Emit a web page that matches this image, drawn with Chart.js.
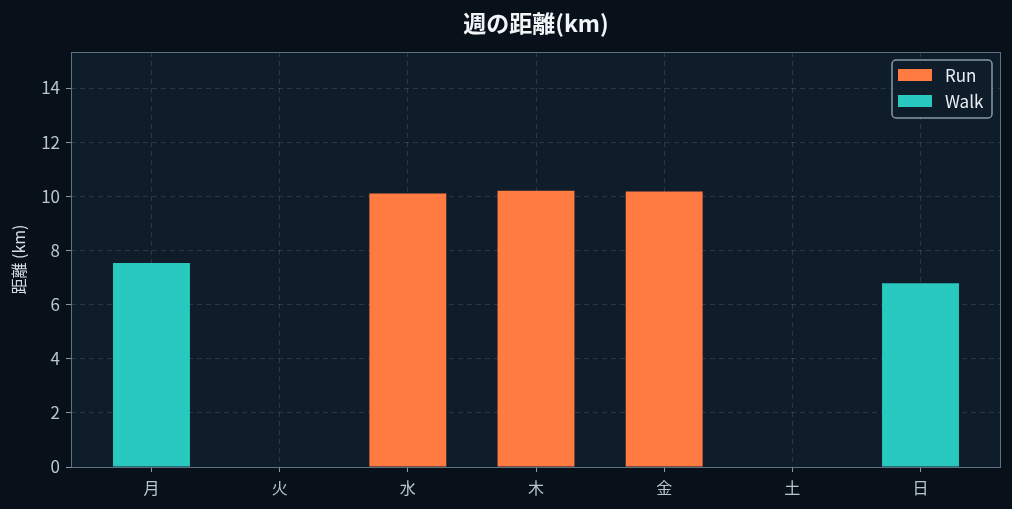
<!DOCTYPE html>
<html lang="ja">
<head>
    <meta charset="UTF-8">
    <title>週の距離(km)</title>
    <style>
        html, body { margin: 0; padding: 0; background: #08111a; }
        #wrap { width: 1012px; height: 509px; }
    </style>
</head>
<body>
    <div id="wrap"><canvas id="chart"></canvas></div>

    <script src="https://cdn.jsdelivr.net/npm/chart.js"></script>
    <script>
        const days = ['月', '火', '水', '木', '金', '土', '日'];
        const runKm = [0, 0, 10.1, 10.2, 10.18, 0, 0];
        const walkKm = [7.54, 0, 0, 0, 0, 0, 6.79];
        const yTicks = [0, 2, 4, 6, 8, 10, 12, 14];

        const FONT = "'Noto Sans CJK JP', 'Noto Sans', sans-serif";
        const plotBg = '#0f1d2a';
        const gridColor = 'rgba(160, 185, 210, 0.18)';
        const tickMarkColor = '#8a9bab';
        const labelColor = '#b9c6d2';

        // plot background + frame
        const frame = {
            id: 'frame',
            beforeDraw(chart) {
                const c = chart.ctx, a = chart.chartArea;
                c.save();
                c.fillStyle = '#08111a';
                c.fillRect(0, 0, chart.width, chart.height);
                c.fillStyle = plotBg;
                c.fillRect(a.left, a.top, a.right - a.left, a.bottom - a.top);
                c.restore();
            },
            afterDraw(chart) {
                const c = chart.ctx, a = chart.chartArea;
                c.save();
                c.strokeStyle = '#5f7080';
                c.lineWidth = 1;
                c.strokeRect(a.left + 0.5, a.top + 0.5, a.right - a.left - 1, a.bottom - a.top);
                c.restore();
            }
        };

        // legend with a rounded box, top right inside the plot
        const boxLegend = {
            id: 'boxLegend',
            afterDraw(chart) {
                const c = chart.ctx, a = chart.chartArea;
                const w = 100, h = 58;
                const x = a.right - 9 - w, y = a.top + 8;
                c.save();
                c.beginPath();
                c.roundRect(x, y, w, h, 4);
                c.fillStyle = 'rgba(15, 29, 42, 0.85)';
                c.fill();
                c.lineWidth = 1.5;
                c.strokeStyle = '#8798a8';
                c.stroke();
                c.font = '17px ' + FONT;
                c.textBaseline = 'middle';
                chart.data.datasets.forEach((ds, i) => {
                    const cy = y + 15 + i * 26;
                    c.fillStyle = ds.backgroundColor;
                    c.fillRect(x + 6, cy - 6, 34, 12);
                    c.fillStyle = '#e8eef4';
                    c.fillText(ds.label, x + 53, cy + 1);
                });
                c.restore();
            }
        };

        const gridOpts = {
            color: gridColor,
            offset: false,
            tickColor: tickMarkColor,
            tickBorderDash: [],
            tickLength: 5
        };

        const ctx = document.getElementById('chart').getContext('2d');
        const chart = new Chart(ctx, {
            type: 'bar',
            data: {
                datasets: [
                    {
                        label: 'Run',
                        data: runKm.map((v, i) => ({ x: i, y: v })),
                        backgroundColor: '#ff7b41',
                        borderWidth: 0,
                        inflateAmount: 0,
                        categoryPercentage: 1,
                        barPercentage: 0.6
                    },
                    {
                        label: 'Walk',
                        data: walkKm.map((v, i) => ({ x: i, y: v })),
                        backgroundColor: '#2ac9c0',
                        borderWidth: 0,
                        inflateAmount: 0,
                        categoryPercentage: 1,
                        barPercentage: 0.6
                    }
                ]
            },
            options: {
                responsive: true,
                maintainAspectRatio: false,
                animation: false,
                layout: { padding: { left: 0, right: 11, top: 0, bottom: 0 } },
                plugins: {
                    legend: { display: false },
                    tooltip: { enabled: false },
                    title: {
                        display: true,
                        text: '週の距離(km)',
                        fullSize: false,
                        color: '#f2f5f8',
                        font: { family: FONT, size: 23, weight: 'bold', lineHeight: 1.2 },
                        padding: { top: 9.5, bottom: 14.9 }
                    }
                },
                scales: {
                    x: {
                        type: 'linear',
                        stacked: true,
                        offset: false,
                        min: -0.628,
                        max: 6.628,
                        z: 1,
                        afterFit: s => { s.height = 42; },
                        border: { display: false, dash: [5, 4] },
                        grid: gridOpts,
                        ticks: {
                            stepSize: 1,
                            includeBounds: false,
                            autoSkip: false,
                            maxRotation: 0,
                            padding: 6,
                            color: labelColor,
                            font: { family: FONT, size: 16 },
                            callback: v => days[v] !== undefined ? days[v] : ''
                        }
                    },
                    y: {
                        stacked: true,
                        min: 0,
                        max: 15.33,
                        z: 1,
                        afterFit: s => { s.width = 71; },
                        border: { display: false, dash: [5, 4] },
                        grid: gridOpts,
                        afterBuildTicks: s => { s.ticks = yTicks.map(v => ({ value: v })); },
                        ticks: {
                            padding: 6,
                            color: labelColor,
                            font: { family: FONT, size: 17 }
                        },
                        title: {
                            display: true,
                            text: '距離 (km)',
                            color: '#d3dbe3',
                            font: { family: FONT, size: 16 },
                            padding: { top: 9, bottom: 0 }
                        }
                    }
                }
            },
            plugins: [frame, boxLegend]
        });
    </script>
</body>
</html>
